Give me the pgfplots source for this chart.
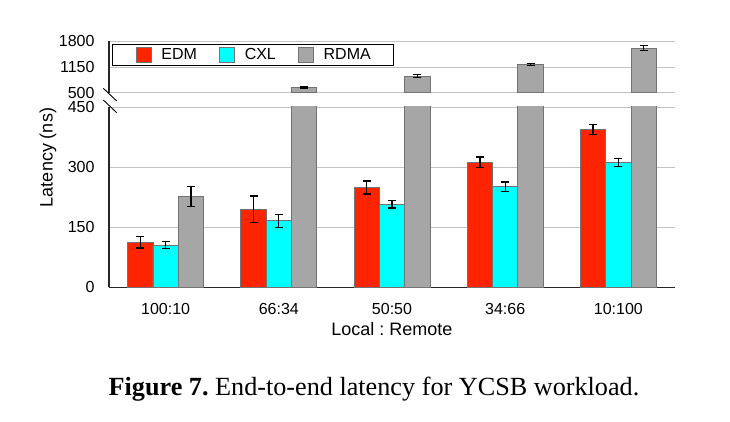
\documentclass[border=0pt]{standalone}
\usepackage{fontspec}
\setmainfont{Liberation Sans}
\newfontfamily\capfont{Liberation Serif}
\usepackage{pgfplots}
\pgfplotsset{compat=1.18}
\frenchspacing
\definecolor{edm}{RGB}{255,36,0}
\definecolor{cxl}{RGB}{0,255,255}
\definecolor{rdma}{RGB}{166,166,166}
\definecolor{barline}{RGB}{115,115,115}
\definecolor{gridc}{RGB}{195,195,195}
\pgfplotsset{
  brk/.style={
    width=566pt, scale only axis, xmin=-0.5, xmax=4.5,
    ybar, bar width=25.3pt,
    ymajorgrids, grid style={gridc, line width=0.9pt},
    major tick length=0pt,
    tick label style={font=\fontsize{16}{16}\selectfont},
    yticklabel style={inner sep=0pt, xshift=-14.3pt},
    /pgf/number format/assume math mode=true,
    /pgf/number format/1000 sep={},
    axis line style={line width=1.2pt, black!85, -},
    legend image code/.code={\draw[#1, line width=0.8pt] (0pt,-7.5pt) rectangle (15pt,7.5pt);},
  },
  eb/.style={error bars/.cd, y dir=both, y explicit,
    error bar style={black, line width=1.3pt},
    error mark options={rotate=90, mark size=4pt, black, line width=1.3pt}},
}
\begin{document}
\begin{tikzpicture}
\path[use as bounding box] (0,0) rectangle (730pt,421pt);
% bottom axis
\begin{axis}[brk, at={(109pt,133.7pt)}, anchor=south west,
  height=180.3pt, ymin=0, ymax=450, ytick={0,150,300,450},
  axis x line*=bottom, axis y line*=left,
  xtick={0,1,2,3,4}, xticklabels={100:10,66:34,50:50,34:66,10:100},
  xlabel={Local : Remote}, xlabel style={font=\fontsize{18}{18}\selectfont, yshift=-1pt},
  xticklabel style={yshift=-12pt}]
\addplot[fill=edm, draw=barline, line width=0.8pt, bar shift=-25.3pt, eb] coordinates {
 (0,112) +- (0,14) (1,195) +- (0,33) (2,249) +- (0,16) (3,312) +- (0,13) (4,394) +- (0,12)};
\addplot[fill=cxl, draw=barline, line width=0.8pt, bar shift=0pt, eb] coordinates {
 (0,105) +- (0,9) (1,166) +- (0,16) (2,207) +- (0,9) (3,251) +- (0,12) (4,312) +- (0,10)};
\addplot[fill=rdma, draw=barline, line width=0.8pt, bar shift=25.3pt, eb] coordinates {
 (0,226) +- (0,25) (1,626) +- (0,15) (2,920) +- (0,35) (3,1219) +- (0,25) (4,1624) +- (0,65)};
\end{axis}
% top axis
\begin{axis}[brk, at={(109pt,328.3pt)}, anchor=south west,
  height=51.4pt, ymin=500, ymax=1800, ytick={500,1150,1800},
  axis x line=none, axis y line*=left, xtick=\empty,
  legend columns=3,
  legend style={at={(axis description cs:0.0053,0.947)}, anchor=north west,
    draw=black, line width=1.2pt, inner xsep=23pt, inner ysep=2.5pt,
    font=\fontsize{16}{16}\selectfont,
    nodes={inner sep=0pt},
    /tikz/every odd column/.append style={column sep=10pt},
    /tikz/every even column/.append style={column sep=22pt}}]
\addlegendimage{fill=edm, draw=barline}
\addlegendentry{EDM}
\addlegendimage{fill=cxl, draw=barline}
\addlegendentry{CXL}
\addplot[fill=rdma, draw=barline, line width=0.8pt, bar shift=25.3pt, eb] coordinates {
 (1,626) +- (0,15) (2,920) +- (0,35) (3,1219) +- (0,25) (4,1624) +- (0,65)};
\addlegendentry{RDMA}
\end{axis}
% break marks
\draw[line width=0.9pt, black] (103.3pt,332.7pt) -- (116.7pt,320pt);
\draw[line width=0.9pt, black] (103.3pt,321pt) -- (116.7pt,308.3pt);
\node[rotate=90, font=\fontsize{18}{18}\selectfont] at (48pt,263.5pt) {Latency (ns)};
\node[font=\capfont\fontsize{26.2}{26}\selectfont, anchor=base] at (374pt,26pt) {\textbf{Figure 7.} End-to-end latency for YCSB workload.};
\end{tikzpicture}
\end{document}
